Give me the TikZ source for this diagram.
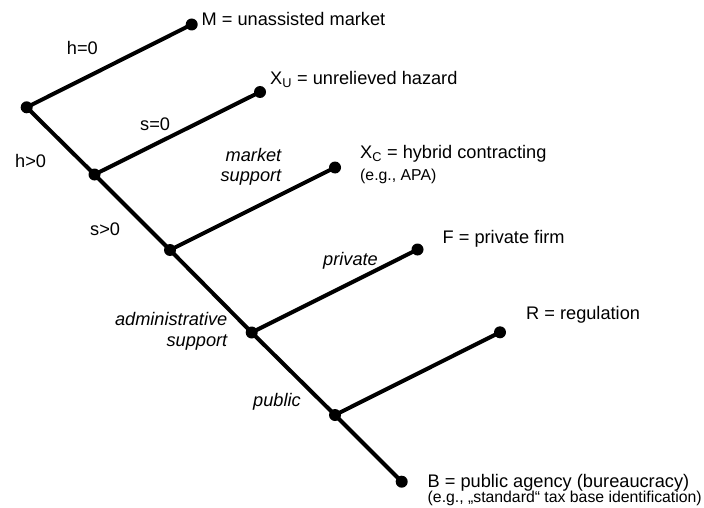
\documentclass[tikz,border=0pt]{standalone}
\usepackage{fontspec}
\setmainfont{Liberation Sans}
\usepackage{tikz}
\usetikzlibrary{positioning}

\begin{document}
\begin{tikzpicture}[
    x=1pt, y=-1pt,
    dot/.style={
        circle, fill=black, inner sep=0pt, minimum size=12pt
    },
    branch/.style={line width=4pt, line cap=round},
    outcome/.style={
        inner sep=0pt, anchor=base west,
        font=\fontsize{18.2}{21}\selectfont
    },
    note/.style={
        inner sep=0pt, anchor=base west,
        font=\fontsize{15.8}{18}\selectfont
    },
    cond/.style={
        inner sep=0pt, anchor=base west,
        font=\fontsize{18.2}{21}\selectfont
    },
    kind/.style={
        inner sep=0pt, font=\fontsize{18.2}{20.5}\selectfont\itshape
    }
]
\useasboundingbox (0,0) rectangle (704,508);

% decision points on the spine
\node[dot] (root) at (26.7,107.3) {};
\node[dot] (haz)  at (94.5,174.5) {};
\node[dot] (supp) at (170,250)    {};
\node[dot] (adm)  at (251.7,332.5) {};
\node[dot] (pub)  at (335,415)    {};

% end points
\node[dot] (m)  at (191.7,24.5)  {};
\node[dot] (xu) at (260,92)      {};
\node[dot] (xc) at (335,167.5)   {};
\node[dot] (f)  at (417.5,249.5) {};
\node[dot] (r)  at (500,332.3)   {};
\node[dot] (b)  at (401.7,481.7) {};

\draw[branch] (root.center) -- (haz.center) -- (supp.center)
              -- (adm.center) -- (pub.center) -- (b.center);
\draw[branch] (root.center) -- (m.center);
\draw[branch] (haz.center)  -- (xu.center);
\draw[branch] (supp.center) -- (xc.center);
\draw[branch] (adm.center)  -- (f.center);
\draw[branch] (pub.center)  -- (r.center);

% outcomes
\node[outcome] (mlbl)  at (201.5,26)  {M = unassisted market};
\node[outcome] (xulbl) at (270,85)    {X\textsubscript{U} = unrelieved hazard};
\node[outcome] (xclbl) at (360,158.5) {X\textsubscript{C} = hybrid contracting};
\node[note]    (xcnote) at (360,180)  {(e.g., APA)};
\node[outcome] (flbl)  at (442.5,243) {F = private firm};
\node[outcome] (rlbl)  at (526,319)   {R = regulation};
\node[outcome] (blbl)  at (427.5,487) {B = public agency (bureaucracy)};
\node[note]    (bnote) at (427.5,502.5) {(e.g., „standard“ tax base identification)};

% conditions
\node[cond] (h0)  at (66.7,55)   {h=0};
\node[cond] (s0)  at (140,130.7) {s=0};
\node[cond] (hp)  at (15,167.7)  {h>0};
\node[cond] (sp)  at (90,235.7)  {s>0};

% kinds of support
\node[kind, align=right, anchor=north east] (mkt) at (281.5,148)
    {market\\support};
\node[kind, anchor=base west] (priv) at (323,265) {private};
\node[kind, align=right, anchor=north east] (admin) at (227.5,312.5)
    {administrative\\support};
\node[kind, anchor=base west] (publ) at (253,406.7) {public};

\end{tikzpicture}
\end{document}
